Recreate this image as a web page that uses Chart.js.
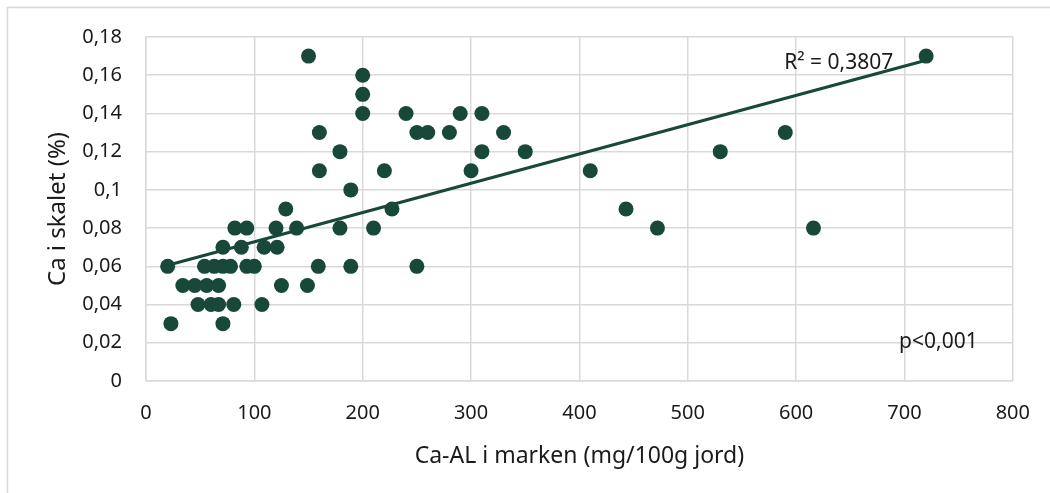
<!DOCTYPE html>
<html>
<head>
<meta charset="utf-8">
<script src="https://cdn.jsdelivr.net/npm/chart.js@4/dist/chart.umd.min.js"></script>
<style>
  html, body { margin: 0; padding: 0; background: #fff; }
  #wrap { width: 1050px; height: 493px; }
</style>
</head>
<body>
<div id="wrap"><canvas id="container" width="1050" height="493"></canvas></div>
<script>
// Ca-AL in soil (mg/100g) vs Ca in shell (%)
const caAL = [
  23, 71,
  48, 60, 67, 81, 107,
  34, 45, 56, 67, 125, 149,
  20, 54, 63, 71, 78, 93, 100, 159, 189, 250,
  71, 88, 109, 121,
  82, 93, 120, 139, 179, 210, 472, 616,
  129, 227, 443,
  189,
  160, 220, 300, 410,
  179, 310, 350, 530,
  160, 250, 260, 280, 330, 590,
  200, 240, 290, 310,
  200,
  200,
  150, 720
]
const caSkal = [
  0.03, 0.03,
  0.04, 0.04, 0.04, 0.04, 0.04,
  0.05, 0.05, 0.05, 0.05, 0.05, 0.05,
  0.06, 0.06, 0.06, 0.06, 0.06, 0.06, 0.06, 0.06, 0.06, 0.06,
  0.07, 0.07, 0.07, 0.07,
  0.08, 0.08, 0.08, 0.08, 0.08, 0.08, 0.08, 0.08,
  0.09, 0.09, 0.09,
  0.10,
  0.11, 0.11, 0.11, 0.11,
  0.12, 0.12, 0.12, 0.12,
  0.13, 0.13, 0.13, 0.13, 0.13, 0.13,
  0.14, 0.14, 0.14, 0.14,
  0.15,
  0.16,
  0.17, 0.17
]

// linear trendline, ends
const trendX = [20, 720]
const trendY = [0.0606, 0.1678]

const xTicks = [0, 100, 200, 300, 400, 500, 600, 700, 800]
const yTicks = [0, 0.02, 0.04, 0.06, 0.08, 0.1, 0.12, 0.14, 0.16, 0.18]

const notes = [
  { text: 'R² = 0,3807', x: 589, y: 0.1664 },
  { text: 'p<0,001', x: 695, y: 0.0204 }
]

const green = '#17483a'
const grid = '#d9d9d9'
const ink = '#1a1a1a'
const fam = '"Noto Sans", "Open Sans", sans-serif'

const comma = v => String(+Number(v).toFixed(2)).replace('.', ',')

const frame = {
  id: 'frame',
  beforeDraw(chart) {
    const ctx = chart.ctx
    ctx.save()
    ctx.fillStyle = '#fff'
    ctx.fillRect(0, 0, chart.width, chart.height)
    ctx.strokeStyle = grid
    ctx.lineWidth = 1.5
    ctx.beginPath()
    ctx.moveTo(7.5, chart.height)
    ctx.lineTo(7.5, 7.5)
    ctx.lineTo(chart.width, 7.5)
    ctx.stroke()
    ctx.restore()
  }
}

const labels = {
  id: 'labels',
  afterDatasetsDraw(chart) {
    const { ctx, scales } = chart
    ctx.save()
    ctx.fillStyle = ink
    ctx.font = '21px ' + fam
    ctx.textAlign = 'left'
    ctx.textBaseline = 'middle'
    notes.forEach(n => {
      ctx.fillText(n.text, scales.x.getPixelForValue(n.x), scales.y.getPixelForValue(n.y))
    })
    ctx.restore()
  }
}

const points = caAL.map((x, i) => ({ x: x, y: caSkal[i] }))
const trend = trendX.map((x, i) => ({ x: x, y: trendY[i] }))

new Chart(document.querySelector('#container'), {
  type: 'scatter',
  data: {
    datasets: [
      {
        type: 'line',
        data: trend,
        borderColor: green,
        borderWidth: 3.2,
        pointRadius: 0,
        fill: false,
        order: 0
      },
      {
        data: points,
        backgroundColor: green,
        borderWidth: 0,
        pointRadius: 7.5,
        order: 1
      }
    ]
  },
  options: {
    responsive: false,
    animation: false,
    layout: { padding: { left: 0, top: 37, right: 36, bottom: 0 } },
    plugins: { legend: { display: false }, tooltip: { enabled: false } },
    scales: {
      x: {
        type: 'linear',
        min: 0,
        max: 800,
        afterBuildTicks: s => { s.ticks = xTicks.map(v => ({ value: v })) },
        afterFit: s => { s.height = 112 },
        grid: { color: grid, lineWidth: 1.5, drawTicks: false },
        border: { color: grid, width: 1.5 },
        ticks: { color: ink, font: { family: fam, size: 20 }, padding: 20, maxRotation: 0, callback: v => String(v) },
        title: { display: true, text: 'Ca-AL i marken (mg/100g jord)', color: ink, font: { family: fam, size: 23 }, padding: { top: 0, bottom: 23 } }
      },
      y: {
        type: 'linear',
        min: 0,
        max: 0.18,
        afterBuildTicks: s => { s.ticks = yTicks.map(v => ({ value: v })) },
        afterFit: s => { s.width = 146 },
        grid: { color: grid, lineWidth: 1.5, drawTicks: false },
        border: { color: grid, width: 1.5 },
        ticks: { color: ink, font: { family: fam, size: 20 }, padding: 24, callback: comma },
        title: { display: true, text: 'Ca i skalet (%)', color: ink, font: { family: fam, size: 24 }, padding: { top: 44, bottom: 0 } }
      }
    }
  },
  plugins: [frame, labels]
})
</script>
</body>
</html>
